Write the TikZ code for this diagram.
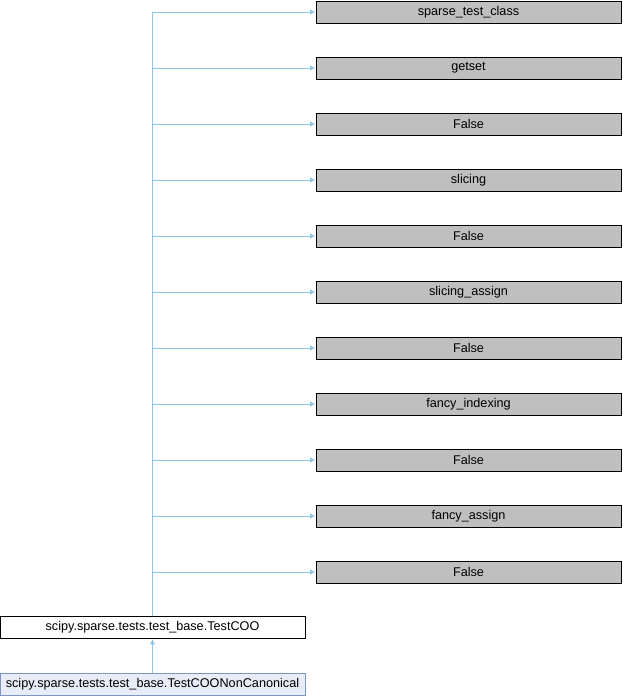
\documentclass[tikz,border=0pt]{standalone}
\usepackage{fontspec}
\setmainfont{Liberation Sans}
\usetikzlibrary{arrows.meta}
\definecolor{edgeblue}{RGB}{143,196,234}
\definecolor{boxgray}{RGB}{191,191,191}
\definecolor{curfill}{RGB}{232,236,246}
\definecolor{curline}{RGB}{122,150,200}
\begin{document}
\begin{tikzpicture}[x=0.75pt,y=-0.75pt,
  member/.style={draw,fill=boxgray,line width=0.75pt,minimum width=228.75pt,minimum height=16.5pt,inner sep=0pt,font=\fontsize{9.5}{11}\selectfont},
  base/.style={member,fill=white},
  current/.style={member,draw=curline,fill=curfill},
  edge/.style={draw=edgeblue,line width=0.75pt,-{Latex[length=4pt,width=4pt]}}]
  \useasboundingbox (0,0) rectangle (622,696);
  % member boxes on the right
  \node[member] (cls) at (468.5,12) {sparse\_test\_class};
  \node[member] (getset) at (468.5,68) {getset};
  \node[member] (false1) at (468.5,124) {False};
  \node[member] (slicing) at (468.5,180) {slicing};
  \node[member] (false2) at (468.5,236) {False};
  \node[member] (slicingassign) at (468.5,292) {slicing\_assign};
  \node[member] (false3) at (468.5,348) {False};
  \node[member] (fancyindexing) at (468.5,404) {fancy\_indexing};
  \node[member] (false4) at (468.5,460) {False};
  \node[member] (fancyassign) at (468.5,516) {fancy\_assign};
  \node[member] (false5) at (468.5,572) {False};
  % classes on the left
  \node[base] (coo) at (152.5,627.5) {scipy.sparse.tests.test\_base.TestCOO};
  \node[current] (noncanon) at (152.5,684.5) {scipy.sparse.tests.test\_base.TestCOONonCanonical};
  \draw[edge] (noncanon) -- (coo);
  \draw[edge] (coo.north) |- (cls.west);
  \draw[edge] (coo.north) |- (getset.west);
  \draw[edge] (coo.north) |- (false1.west);
  \draw[edge] (coo.north) |- (slicing.west);
  \draw[edge] (coo.north) |- (false2.west);
  \draw[edge] (coo.north) |- (slicingassign.west);
  \draw[edge] (coo.north) |- (false3.west);
  \draw[edge] (coo.north) |- (fancyindexing.west);
  \draw[edge] (coo.north) |- (false4.west);
  \draw[edge] (coo.north) |- (fancyassign.west);
  \draw[edge] (coo.north) |- (false5.west);
\end{tikzpicture}
\end{document}
